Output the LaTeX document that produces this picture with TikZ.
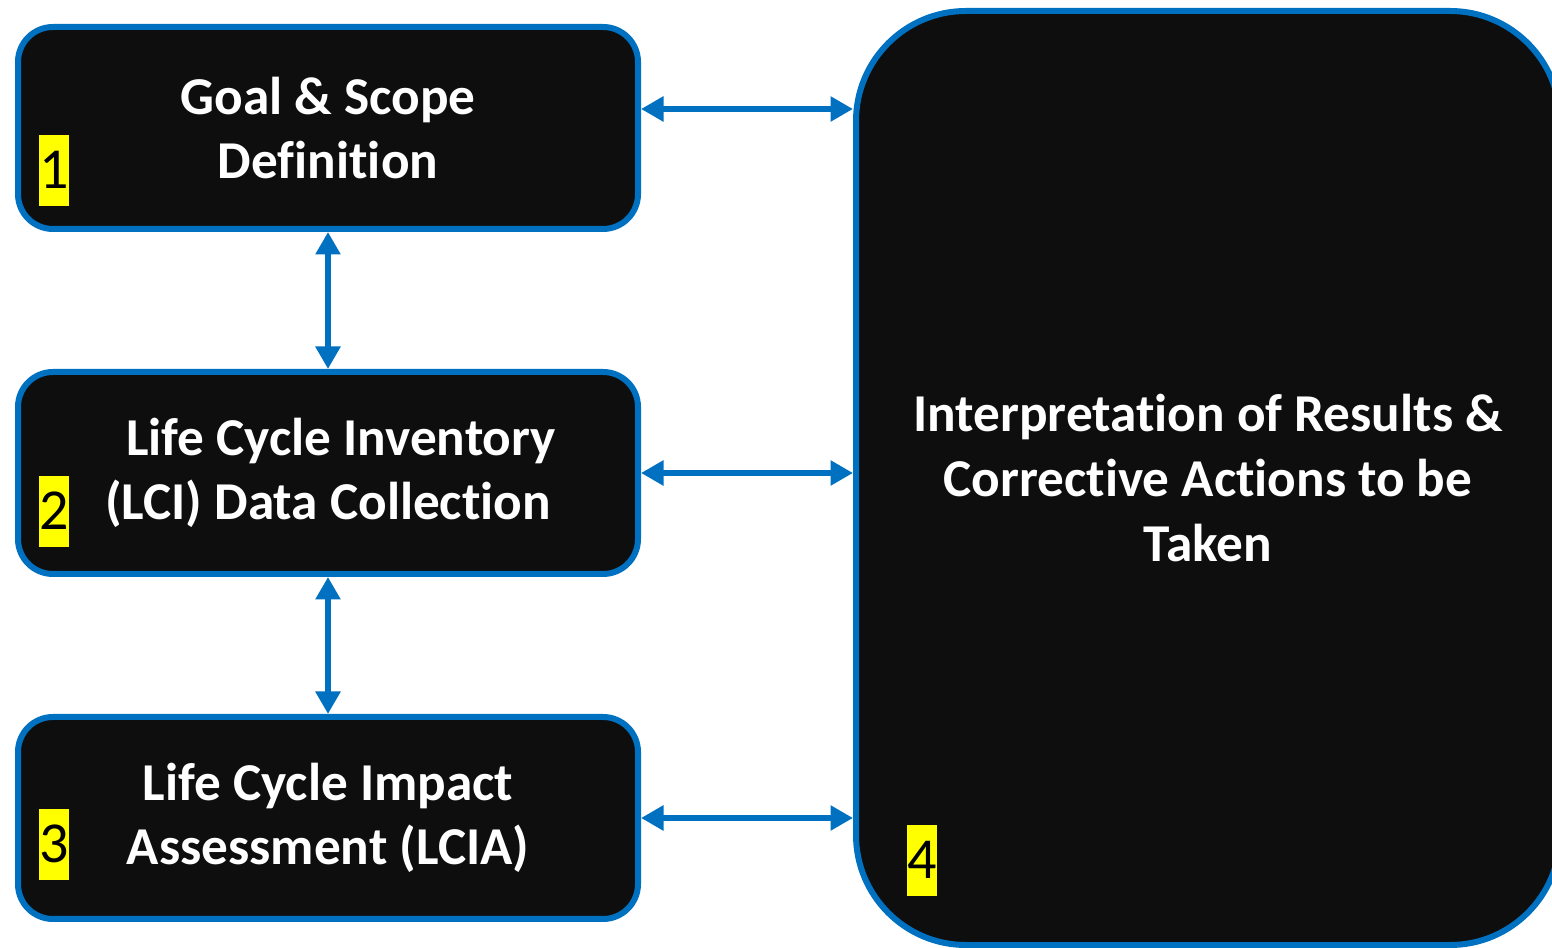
\documentclass[tikz,border=0pt]{standalone}
\usepackage{fontspec}
\setmainfont{Carlito}[Ligatures=NoCommon]
\usetikzlibrary{arrows.meta,positioning}
\definecolor{PhaseBlue}{RGB}{0,112,192}
\definecolor{PhaseBlack}{RGB}{14,14,14}
\definecolor{TagYellow}{RGB}{255,255,0}

\begin{document}
\begin{tikzpicture}[
  node distance=2.74cm and 4cm, % vertical gap between the phase boxes
  phase/.style={draw=PhaseBlue, line width=0.12cm, rounded corners=0.7cm, fill=PhaseBlack,
    text=white, align=center, inner sep=0pt, minimum width=12.4cm, minimum height=4.04cm,
    font=\bfseries\fontsize{30.3pt}{36.8pt}\selectfont},
  interp/.style={phase, rounded corners=2.2cm, minimum width=14.08cm, minimum height=18.68cm},
  tag/.style={fill=TagYellow, text=black, inner sep=0pt, anchor=south west,
    minimum width=0.6cm, minimum height=1.42cm, font=\fontsize{33pt}{40pt}\selectfont},
  link/.style={{Triangle[length=0.45cm,width=0.48cm]}-{Triangle[length=0.45cm,width=0.48cm]},
    line width=0.13cm, draw=PhaseBlue}
]
\clip (0,0) rectangle (31.04,18.94);

% --- Left column: the three phases ---
\node[phase] (goal) at (6.56,16.38) {Goal \& Scope\\Definition};
\node[phase, below=of goal] (lci) {\hspace*{0.52cm}Life Cycle Inventory\\(LCI) Data Collection};
\node[phase, below=of lci] (lcia) {Life Cycle Impact\\Assessment (LCIA)};

% --- Right: interpretation ---
\node[interp] (interpret) at (24.16,9.38) {Interpretation of Results \&\\Corrective Actions to be\\Taken};

% --- Numbers ---
\node[tag] (num1) at ([shift={(0.48,0.52)}]goal.south west) {1};
\node[tag] (num2) at ([shift={(0.48,0.6)}]lci.south west) {2};
\node[tag] (num3) at ([shift={(0.48,0.84)}]lcia.south west) {3};
\node[tag] (num4) at ([shift={(1.08,1.04)}]interpret.south west) {4};

% --- Arrows ---
\draw[link] (goal) -- (lci);
\draw[link] (lci) -- (lcia);
\draw[link] ([yshift=0.38cm]goal.east) -- ([yshift=0.38cm]goal.east -| interpret.west);
\draw[link] (lci.east) -- (lci.east -| interpret.west);
\draw[link] (lcia.east) -- (lcia.east -| interpret.west);

\end{tikzpicture}
\end{document}
